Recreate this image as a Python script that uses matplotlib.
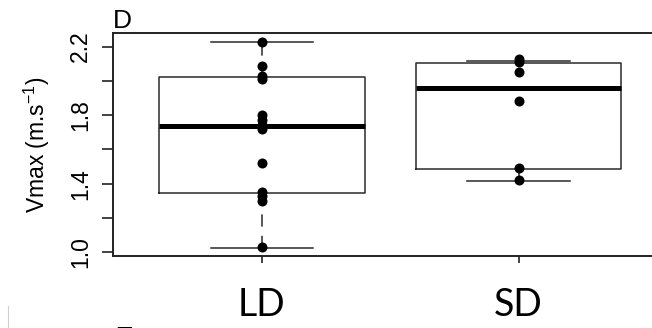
import matplotlib
matplotlib.use("Agg")
import matplotlib.pyplot as plt
from matplotlib.lines import Line2D

# ---- data ----
groups = ["LD", "SD"]
q1 = [1.346, 1.485]
median = [1.737, 1.961]
q3 = [2.023, 2.103]
whisker_low = [1.027, 1.418]
whisker_high = [2.229, 2.117]
points_ld = [2.23, 2.09, 2.03, 2.01, 1.80, 1.77, 1.74, 1.72, 1.52, 1.35, 1.33, 1.30, 1.03]
points_sd = [2.13, 2.11, 2.05, 1.88, 1.49, 1.42]
ytick_values = [1.0, 1.2, 1.4, 1.6, 1.8, 2.0, 2.2]
ytick_labels = ["1.0", "", "1.4", "", "1.8", "", "2.2"]

plt.rcParams["font.family"] = ["Liberation Sans", "DejaVu Sans"]
plt.rcParams["mathtext.fontset"] = "custom"
plt.rcParams["mathtext.rm"] = "Liberation Sans"

W, H = 652, 328
fig = plt.figure(figsize=(W / 100, H / 100), dpi=100)
ax = fig.add_axes([113 / W, 1 - 256 / H, 1 - 113 / W, (256 - 33.3) / H])

stats = []
for i, g in enumerate(groups):
    stats.append(dict(label=g, med=median[i], q1=q1[i], q3=q3[i],
                      whislo=whisker_low[i], whishi=whisker_high[i], fliers=[]))

edge = "#2a2a2a"
positions = list(range(1, len(groups) + 1))
ax.bxp(stats, positions=positions, widths=0.8, capwidths=0.4, showfliers=False,
       boxprops=dict(color=edge, linewidth=1.1),
       whiskerprops=dict(color=edge, linewidth=1.1, linestyle=(0, (8, 6))),
       capprops=dict(color=edge, linewidth=1.1),
       medianprops=dict(color="black", linewidth=3.6, solid_capstyle="butt"),
       manage_ticks=False, zorder=2)

for pos, pts in zip(positions, [points_ld, points_sd]):
    ax.plot([pos] * len(pts), pts, "o", color="black", markersize=7.2,
            markeredgewidth=0, zorder=4, clip_on=False)

ax.set_xlim(0.42, 2.52)
ax.set_ylim(0.978, 2.278)

ax.spines["right"].set_visible(False)
for side in ["left", "bottom", "top"]:
    ax.spines[side].set_linewidth(1.4)
    ax.spines[side].set_color("#222222")

ax.set_yticks(ytick_values)
ax.set_yticklabels(ytick_labels, rotation=90, va="center", fontsize=16.5)
ax.tick_params(axis="y", length=8, width=1.2, pad=7, color="#222222")

ax.set_xticks(positions)
ax.set_xticklabels(groups, fontsize=27, family=["Lato", "DejaVu Sans"])
ax.tick_params(axis="x", length=5, width=1.2, pad=17, color="#222222")

fig.text(37 / W, 1 - 145 / H, r"Vmax (m.s$^{\mathregular{-1}}$)", rotation=90,
         ha="center", va="center", fontsize=16.5)

fig.text(113 / W, 1 - 28 / H, "D", fontsize=19, va="baseline", ha="left")
fig.text(115 / W, 1 - 345 / H, "E", fontsize=19, fontweight="bold",
         va="baseline", ha="left")
fig.add_artist(Line2D([8 / W, 8 / W], [0, 1 - 306 / H], color="#d0d0d0",
                      linewidth=0.8, transform=fig.transFigure))

fig.savefig("out.png", dpi=100)
